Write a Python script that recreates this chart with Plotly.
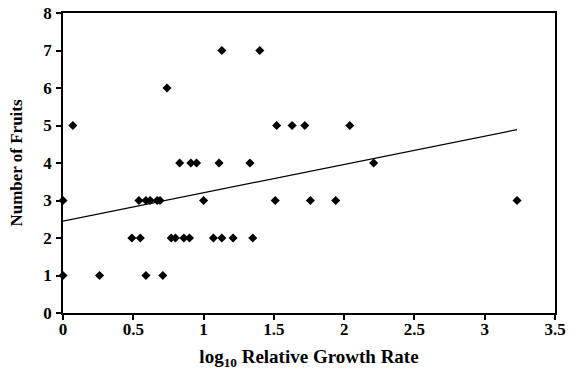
import plotly.graph_objects as go

growth_rate = [0.0, 0.0, 0.07, 0.26, 0.49, 0.54, 0.55, 0.59, 0.59, 0.62, 0.67, 0.69, 0.71,
               0.74, 0.77, 0.80, 0.83, 0.86, 0.90, 0.91, 0.95, 1.00, 1.07, 1.11, 1.13, 1.13,
               1.21, 1.33, 1.35, 1.40, 1.51, 1.52, 1.63, 1.72, 1.76, 1.94, 2.04, 2.21, 3.23]
fruits = [1, 3, 5, 1, 2, 3, 2, 3, 1, 3, 3, 3, 1,
          6, 2, 2, 4, 2, 2, 4, 4, 3, 2, 4, 7, 2,
          2, 4, 2, 7, 3, 5, 5, 5, 3, 3, 5, 4, 3]

trend_x = [0.0, 3.23]
trend_y = [2.45, 4.89]

x_ticks = [0, 0.5, 1, 1.5, 2, 2.5, 3, 3.5]
x_tick_labels = ["0", "0.5", "1", "1.5", "2", "2.5", "3", "3.5"]
y_ticks = [0, 1, 2, 3, 4, 5, 6, 7, 8]

font_family = "Liberation Serif, Times New Roman, serif"

fig = go.Figure()
fig.add_trace(go.Scatter(
    x=growth_rate, y=fruits, mode="markers",
    marker=dict(symbol="diamond", size=7, color="black"),
    showlegend=False, cliponaxis=False,
))
fig.add_trace(go.Scatter(
    x=trend_x, y=trend_y, mode="lines",
    line=dict(color="black", width=1.2),
    showlegend=False,
))

axis_common = dict(
    showgrid=False, zeroline=False, showline=True, linecolor="black", linewidth=1.5,
    ticks="outside", ticklen=5, tickcolor="black", tickwidth=1.5, mirror=True,
    automargin=False, ticklabeloverflow="allow",
    tickfont=dict(family=font_family, size=17, color="black", weight="bold"),
)

fig.update_layout(
    width=576, height=370,
    margin=dict(l=63, r=21, t=13, b=57),
    paper_bgcolor="white", plot_bgcolor="white",
    xaxis=dict(range=[0, 3.5], tickvals=x_ticks, ticktext=x_tick_labels,
               ticklabelstandoff=-5,
               title=dict(text="log<sub>10</sub> Relative Growth Rate", standoff=13,
                          font=dict(family=font_family, size=19, color="black", weight="bold")),
               **axis_common),
    yaxis=dict(range=[0, 8], tickvals=y_ticks, ticklabelstandoff=1,
               title=dict(text="Number of Fruits", standoff=16,
                          font=dict(family=font_family, size=17, color="black", weight="bold")),
               **axis_common),
)

# remove the browser's default 8px body margin so the figure fills the window exactly
fig.write_html("out.html", config={"displayModeBar": False},
               post_script="document.body.style.margin='0';")
